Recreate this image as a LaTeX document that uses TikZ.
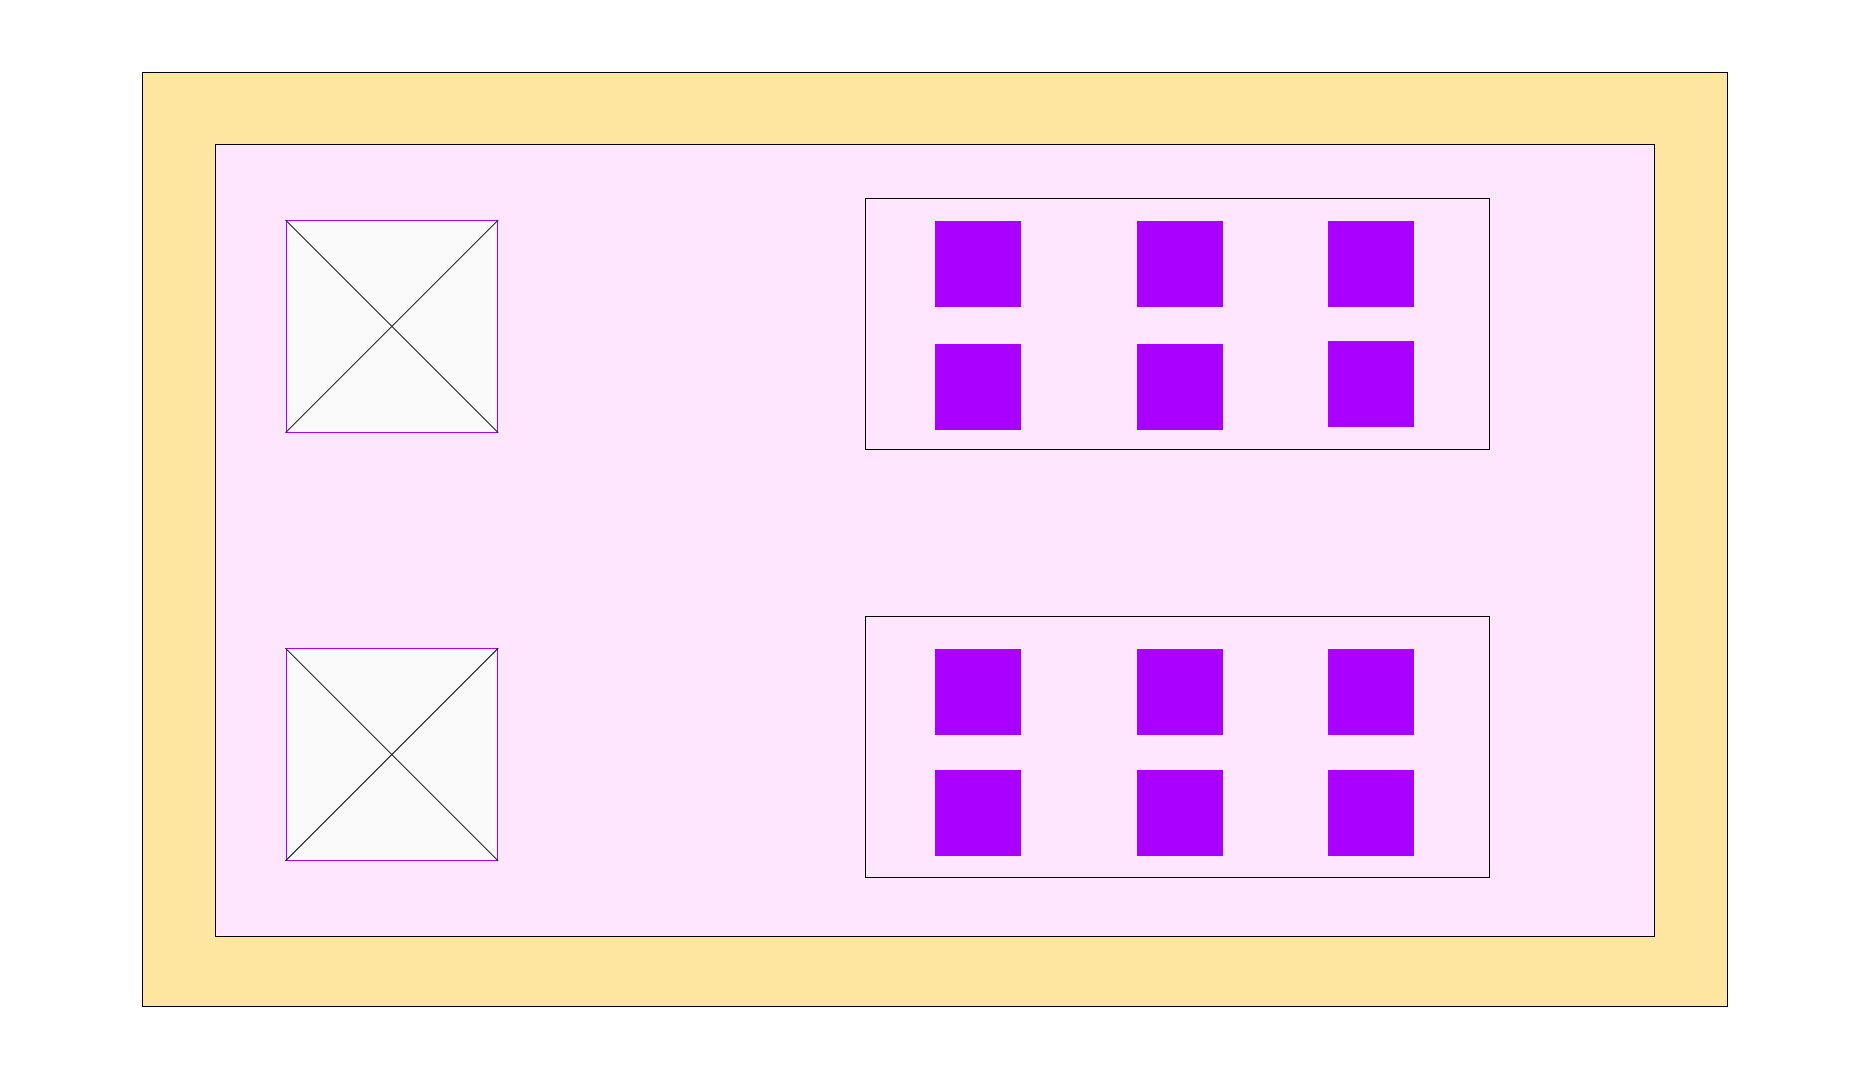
\documentclass[tikz,border=0pt]{standalone}
\begin{document}
\begin{tikzpicture}[x=1pt,y=-1pt,
  box/.style={draw=black,line width=1pt,inner sep=0pt,rectangle},
  crossbox/.style={draw=crosspurple,fill=crossfill,line width=1pt,inner sep=0pt,minimum size=211.7pt},
  sq/.style={fill=sqpurple,inner sep=0pt,minimum size=86pt},
  diag/.style={draw=black!85,line width=0.9pt}]
\definecolor{outeryellow}{HTML}{FEE6A0}
\definecolor{innerpink}{HTML}{FFE6FF}
\definecolor{sqpurple}{HTML}{AA00FF}
\definecolor{crosspurple}{HTML}{AA00FF}
\definecolor{crossfill}{HTML}{FAFAFA}
\useasboundingbox[fill=white] (0,0) rectangle (1874,1080);
\node[box,fill=outeryellow,minimum width=1585pt,minimum height=934pt] (outer) at (934.5,539) {};
\node[box,fill=innerpink,minimum width=1439pt,minimum height=792pt] (inner) at (934.5,540) {};
\node[crossbox] (c1) at (391.85,326.35) {};
\node[crossbox] (c2) at (391.85,754.5) {};
\draw[diag] (c1.north west) -- (c1.south east);
\draw[diag] (c1.north east) -- (c1.south west);
\draw[diag] (c2.north west) -- (c2.south east);
\draw[diag] (c2.north east) -- (c2.south west);
\node[box,minimum width=624pt,minimum height=251pt] (g1) at (1177.3,323.8) {};
\node[box,minimum width=624pt,minimum height=261pt] (g2) at (1177.3,746.8) {};
\node[sq] (a11) at (978,263.85) {};
\node[sq] (a12) at (1180,263.85) {};
\node[sq] (a13) at (1371,263.85) {};
\node[sq] (a21) at (978,386.85) {};
\node[sq] (a22) at (1180,386.85) {};
\node[sq] (a23) at (1371,383.85) {};
\node[sq] (b11) at (978,692) {};
\node[sq] (b12) at (1180,692) {};
\node[sq] (b13) at (1371,692) {};
\node[sq] (b21) at (978,813) {};
\node[sq] (b22) at (1180,813) {};
\node[sq] (b23) at (1371,813) {};
\end{tikzpicture}
\end{document}
